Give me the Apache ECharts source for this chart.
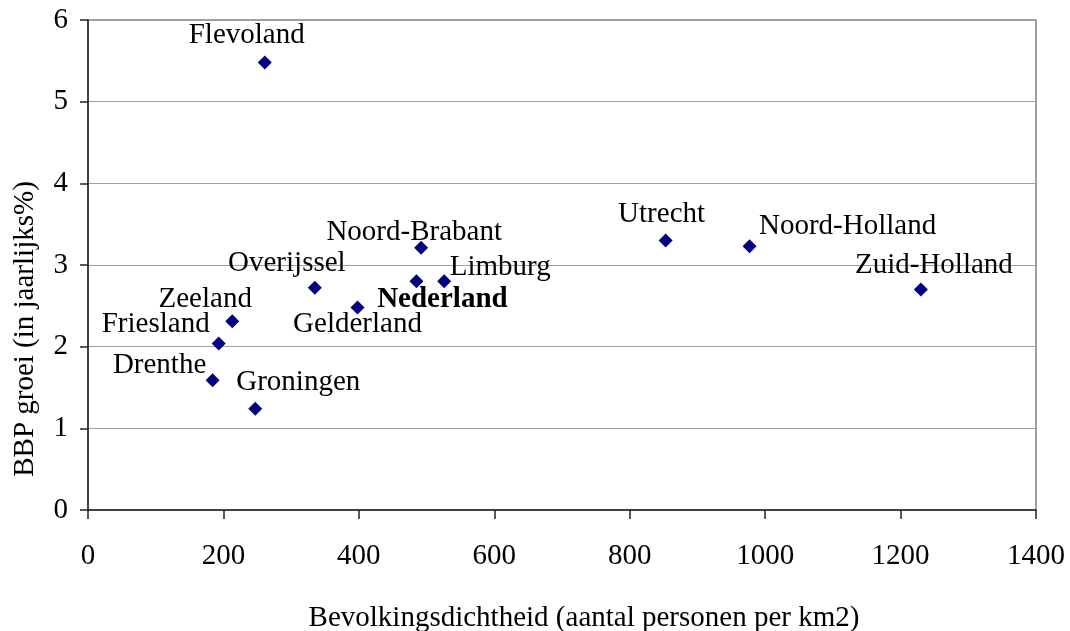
<!DOCTYPE html>
<html>
<head>
<meta charset="utf-8">
<script src="https://cdn.jsdelivr.net/npm/echarts@6/dist/echarts.min.js"></script>
<style>
  html, body { margin: 0; padding: 0; background: #fff; }
  #chart { width: 1070px; height: 631px; }
</style>
</head>
<body>
<div id="chart"></div>
<script>
// provincies
const names = ['Flevoland', 'Utrecht', 'Noord-Holland', 'Zuid-Holland', 'Noord-Brabant', 'Limburg',
  'Nederland', 'Gelderland', 'Overijssel', 'Zeeland', 'Friesland', 'Drenthe', 'Groningen'];
// bevolkingsdichtheid (personen per km2)
const density = [261, 853, 977, 1230, 492, 526, 485, 398, 335, 213, 193, 184, 247];
// BBP groei (jaarlijks %)
const growth = [5.48, 3.30, 3.23, 2.70, 3.21, 2.80, 2.80, 2.48, 2.72, 2.31, 2.04, 1.59, 1.24];
const xTicks = [0, 200, 400, 600, 800, 1000, 1200, 1400];
const yTicks = [0, 1, 2, 3, 4, 5, 6];

// waar het label t.o.v. het punt staat (px)
const labelOffsets = [[-18, -27], [-4, -26], [98, -20], [13, -24], [-7, -15], [56, -14],
  [26, 18], [0, 17], [-28, -24], [-27, -22], [-63, -19], [-53, -15], [43, -26]];

const font = '"Liberation Serif", "Times New Roman", serif';
const fs = 29;
const chart = echarts.init(document.getElementById('chart'));

const points = names.map((n, i) => ({
  name: n,
  value: [density[i], growth[i]],
  label: { fontWeight: n === 'Nederland' ? 'bold' : 'normal' }
}));

chart.setOption({
  animation: false,
  backgroundColor: '#fff',
  grid: {
    left: 88, top: 20, right: 34, bottom: 121,
    show: true, borderColor: '#808080', borderWidth: 1.5
  },
  xAxis: {
    type: 'value',
    min: xTicks[0], max: xTicks[xTicks.length - 1], interval: 200,
    axisLine: { show: true, lineStyle: { color: '#222', width: 1.5 } },
    axisTick: { show: true, length: 9, lineStyle: { color: '#222', width: 1.5 } },
    axisLabel: { fontFamily: font, fontSize: fs, color: '#000', margin: 32,
      formatter: v => String(v) },
    splitLine: { show: false }
  },
  yAxis: {
    type: 'value',
    min: yTicks[0], max: yTicks[yTicks.length - 1], interval: 1,
    axisLine: { show: true, lineStyle: { color: '#222', width: 1.5 } },
    axisTick: { show: true, length: 8, lineStyle: { color: '#222', width: 1.5 } },
    axisLabel: { fontFamily: font, fontSize: fs, color: '#000', margin: 20 },
    splitLine: { show: true, lineStyle: { color: '#a0a0a0', width: 1 } }
  },
  graphic: [
    {
      type: 'text', x: 25, y: 329, rotation: Math.PI / 2,
      style: { text: 'BBP groei (in jaarlijks%)', font: fs + 'px ' + font, fill: '#000',
        align: 'center', verticalAlign: 'middle' }
    },
    {
      type: 'text', x: 584, y: 618,
      style: { text: 'Bevolkingsdichtheid (aantal personen per km2)', font: fs + 'px ' + font, fill: '#000',
        align: 'center', verticalAlign: 'middle' }
    }
  ],
  series: [{
    type: 'scatter',
    symbol: 'diamond',
    symbolSize: 14,
    itemStyle: { color: '#000080', opacity: 1 },
    label: {
      show: true,
      position: 'inside',
      formatter: '{b}',
      fontFamily: font,
      fontSize: fs,
      color: '#000',
      align: 'center',
      verticalAlign: 'middle'
    },
    labelLayout: params => ({
      hideOverlap: false,
      dx: labelOffsets[params.dataIndex][0],
      dy: labelOffsets[params.dataIndex][1]
    }),
    data: points
  }]
});
</script>
</body>
</html>
